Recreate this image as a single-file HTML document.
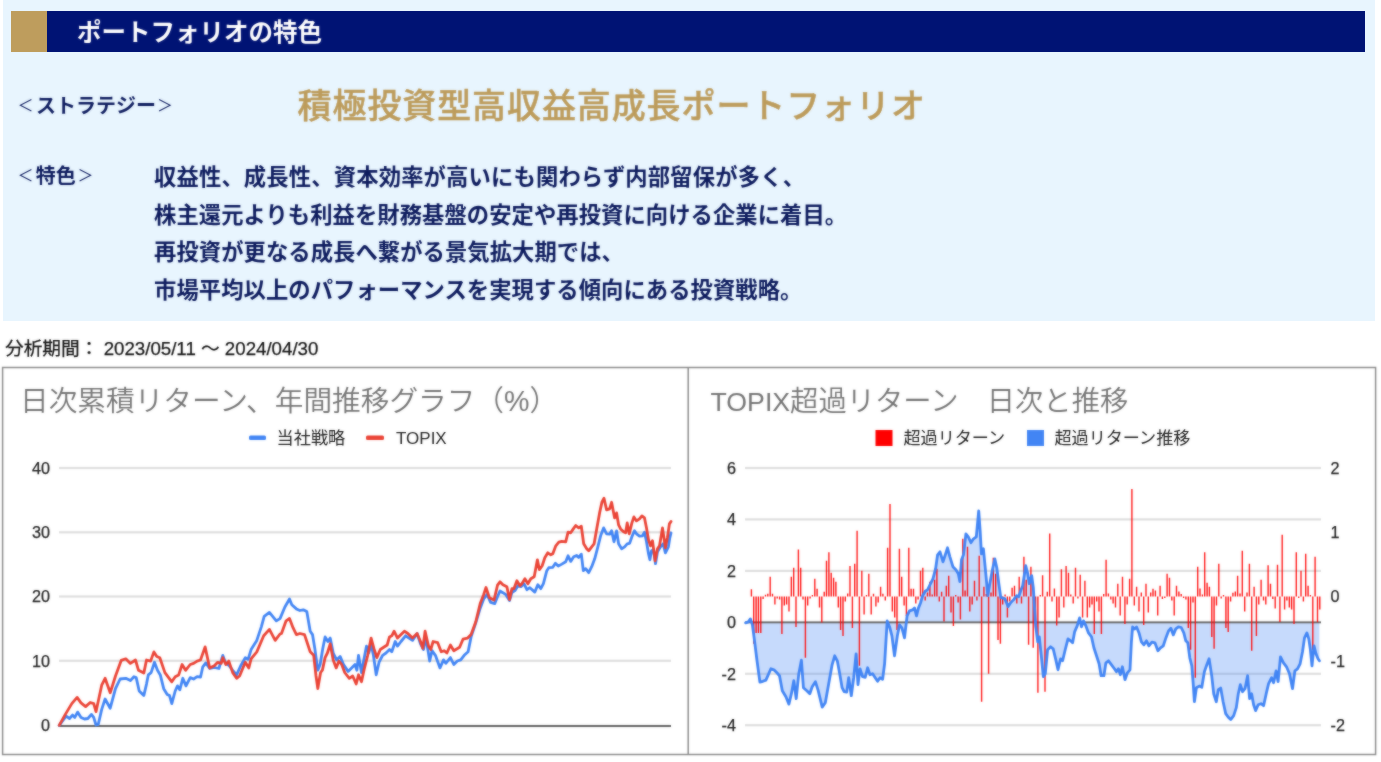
<!DOCTYPE html>
<html lang="ja">
<head>
<meta charset="utf-8">
<title>ポートフォリオの特色</title>
<style>
html,body{margin:0;padding:0;background:#fff;}
body{width:1381px;height:762px;position:relative;overflow:hidden;font-family:"Liberation Sans","Noto Sans CJK JP",sans-serif;}
.abs{position:absolute;white-space:nowrap;}
#box{left:3px;top:0;width:1372px;height:321px;background:#e8f5fe;}
#bar{left:11px;top:11px;width:1354px;height:41px;background:#001374;}
#gold{left:11px;top:11px;width:35.5px;height:41px;background:#be9d5d;}
#ttl{left:77px;top:12px;height:41px;line-height:41px;font-size:24.5px;font-weight:700;color:#fff;letter-spacing:0;}
.navy{color:#0d1b5e;font-weight:700;}
#st{left:0;top:90.5px;line-height:30px;font-size:20px;}
#head{left:297.6px;top:82.3px;line-height:48px;font-size:34px;font-weight:500;-webkit-text-stroke:0.45px #bc9b5b;color:#bc9b5b;letter-spacing:0.9px;}
#tk{left:0;top:160.5px;line-height:30px;font-size:20px;}
.ln{left:154px;font-size:22.3px;line-height:30px;letter-spacing:0.08px;}
.br{font-weight:400;width:20px;text-align:center;font-size:16px;top:0;}
#period{left:5px;top:337px;line-height:24px;font-size:18.7px;color:#111;-webkit-text-stroke:0.25px #111;}
#charts{left:0;top:0;filter:url(#soft);}
#ttl,#st,#head,#tk,.ln,#period{filter:url(#soft);}
</style>
</head>
<body>
<div id="box" class="abs"></div>
<div id="bar" class="abs"></div>
<div id="gold" class="abs"></div>
<div id="ttl" class="abs">ポートフォリオの特色</div>
<div id="st" class="abs navy"><span class="abs br" style="left:15.4px">＜</span><span class="abs" style="left:36.1px">ストラテジー</span><span class="abs br" style="left:155.1px">＞</span></div>
<div id="head" class="abs">積極投資型高収益高成長ポートフォリオ</div>
<div id="tk" class="abs navy"><span class="abs br" style="left:15.4px">＜</span><span class="abs" style="left:35.8px">特色</span><span class="abs br" style="left:75.6px">＞</span></div>
<div class="abs navy ln" style="top:163px;letter-spacing:0.17px">収益性、成長性、資本効率が高いにも関わらず内部留保が多く、</div>
<div class="abs navy ln" style="top:200.5px">株主還元よりも利益を財務基盤の安定や再投資に向ける企業に着目。</div>
<div class="abs navy ln" style="top:238px">再投資が更なる成長へ繋がる景気拡大期では、</div>
<div class="abs navy ln" style="top:275.7px">市場平均以上のパフォーマンスを実現する傾向にある投資戦略。</div>
<div id="period" class="abs">分析期間： 2023/05/11 ～ 2024/04/30</div>
<svg id="charts" class="abs" width="1381" height="762" viewBox="0 0 1381 762">
<filter id="soft" x="-5%" y="-20%" width="110%" height="140%" color-interpolation-filters="sRGB"><feGaussianBlur stdDeviation="0.8" result="b"/><feComposite in="SourceGraphic" in2="b" operator="arithmetic" k1="0" k2="0.5" k3="0.5" k4="0"/></filter>
<!--CHARTS-->
<rect x="2.6" y="367.5" width="1373" height="387" fill="#fff" stroke="#8c8c8c" stroke-width="1.5"/>
<rect x="687.45" y="367.5" width="1.5" height="387" fill="#8c8c8c"/>
<g font-family="'Liberation Sans','Noto Sans CJK JP',sans-serif">
<text x="20" y="411" font-size="28.66" font-weight="350" fill="#757575">日次累積リターン、年間推移グラフ（%）</text>
<rect x="249" y="435.5" width="17" height="4.5" rx="1.5" fill="#4285f4"/>
<text x="276.5" y="444.3" font-size="17.2" fill="#222">当社戦略</text>
<rect x="366" y="435.5" width="18" height="4.5" rx="1.5" fill="#ea4335"/>
<text x="396" y="444" font-size="17" fill="#222">TOPIX</text>
<rect x="59" y="466.9" width="612" height="2.2" fill="#dedede"/>
<rect x="59" y="531.2" width="612" height="2.2" fill="#dedede"/>
<rect x="59" y="595.4" width="612" height="2.2" fill="#dedede"/>
<rect x="59" y="659.7" width="612" height="2.2" fill="#dedede"/>
<text x="50" y="473.9" font-size="16.2" text-anchor="end" fill="#222" stroke="#222" stroke-width="0.25">40</text>
<text x="50" y="538.2" font-size="16.2" text-anchor="end" fill="#222" stroke="#222" stroke-width="0.25">30</text>
<text x="50" y="602.4" font-size="16.2" text-anchor="end" fill="#222" stroke="#222" stroke-width="0.25">20</text>
<text x="50" y="666.7" font-size="16.2" text-anchor="end" fill="#222" stroke="#222" stroke-width="0.25">10</text>
<text x="50" y="730.9" font-size="16.2" text-anchor="end" fill="#222" stroke="#222" stroke-width="0.25">0</text>
<rect x="58.5" y="725.2" width="612.5" height="1.6" fill="#3c3c3c"/>
<path d="M59.2,725.4 L66.1,716.2 L69.5,718.5 L72.5,715.1 L74.8,717.4 L77.6,712.1 L81.0,717.4 L84.5,719.0 L87.9,718.5 L91.4,714.4 L93.7,717.4 L96.0,725.0 L98.3,724.3 L101.7,709.4 L105.1,699.0 L110.2,708.2 L115.5,688.7 L120.1,679.0 L125.8,678.3 L130.4,680.6 L133.9,676.7 L136.2,677.6 L139.2,691.0 L143.8,695.6 L146.5,684.1 L148.3,674.9 L151.1,672.6 L154.5,662.3 L157.5,670.3 L160.3,674.9 L163.7,688.7 L167.2,694.4 L169.5,695.6 L171.8,703.6 L175.2,691.0 L177.5,685.9 L179.8,689.8 L182.8,678.3 L186.0,685.9 L190.2,677.6 L193.6,679.0 L197.1,676.7 L200.5,677.2 L202.8,666.8 L205.8,662.9 L209.7,668.5 L214.3,667.5 L218.9,668.5 L222.8,655.4 L225.8,663.4 L229.2,665.7 L232.7,670.3 L236.6,674.9 L240.7,665.7 L245.3,657.7 L248.1,659.3 L251.1,649.6 L256.8,640.4 L261.4,626.6 L264.2,616.3 L269.4,612.4 L276.3,620.9 L280.0,618.6 L284.9,607.0 L289.5,599.0 L291.8,604.7 L296.4,608.9 L299.9,610.5 L303.3,609.8 L306.8,611.6 L310.2,631.2 L312.5,634.6 L314.8,648.4 L317.8,670.2 L320.1,664.5 L322.8,648.4 L325.1,636.9 L327.9,641.5 L330.2,638.1 L333.2,653.0 L336.6,659.9 L340.1,656.4 L343.5,664.5 L348.1,671.4 L351.6,667.9 L355.0,664.5 L356.9,670.2 L358.5,655.3 L361.5,672.5 L363.8,659.9 L366.5,646.1 L368.8,653.0 L371.1,643.8 L373.4,655.3 L376.2,674.8 L379.1,662.2 L382.6,655.3 L386.0,653.0 L389.5,649.5 L391.8,651.8 L395.2,641.5 L397.5,646.1 L401.0,641.5 L405.6,635.8 L409.0,638.1 L412.5,640.4 L417.1,633.5 L420.5,643.8 L423.5,649.5 L425.8,636.9 L429.7,661.0 L432.0,650.7 L435.4,655.3 L440.0,667.9 L443.5,659.9 L445.8,663.3 L450.4,657.6 L453.8,664.5 L457.3,661.0 L460.7,659.9 L464.2,655.3 L468.1,651.8 L471.1,636.9 L475.7,623.1 L480.2,608.2 L483.7,599.0 L487.1,594.4 L490.6,602.4 L494.7,603.6 L497.5,596.7 L500.0,591.0 L502.9,592.7 L505.9,594.7 L509.5,600.6 L511.9,592.7 L514.9,590.7 L517.9,585.7 L520.9,586.7 L523.9,583.7 L526.9,589.7 L529.9,587.7 L534.8,592.1 L537.8,584.7 L540.8,588.7 L543.4,583.7 L546.8,570.7 L548.8,567.7 L552.8,567.3 L555.4,563.3 L558.2,566.1 L561.8,564.1 L565.7,561.8 L568.1,555.8 L570.7,561.4 L573.7,556.8 L576.7,555.4 L578.7,557.4 L581.3,554.2 L583.3,570.7 L585.7,568.7 L588.7,572.7 L591.7,566.7 L594.7,558.8 L597.6,547.8 L600.6,535.8 L603.6,527.9 L606.6,533.8 L609.6,534.2 L611.6,530.8 L614.0,541.8 L616.6,530.8 L618.6,543.8 L621.6,548.8 L624.6,546.8 L627.2,543.8 L629.6,543.4 L631.9,536.8 L634.5,530.8 L636.5,533.8 L639.5,536.2 L642.5,535.8 L644.5,532.2 L646.5,541.8 L648.5,553.8 L649.9,559.8 L651.5,550.8 L653.5,549.8 L655.5,563.7 L657.5,551.8 L660.5,546.8 L663.1,543.8 L665.4,552.8 L668.4,546.8 L669.8,537.8 L671.0,532.8" fill="none" stroke="#4285f4" stroke-width="2.8" stroke-linejoin="round" stroke-linecap="round"/>
<path d="M59.2,725.4 L64.9,715.1 L71.8,703.6 L77.1,697.4 L81.0,702.9 L85.6,706.6 L90.2,702.5 L93.7,703.6 L96.0,711.7 L101.7,685.2 L105.1,678.3 L110.2,692.8 L115.5,676.0 L121.2,660.4 L125.8,658.8 L130.4,663.4 L135.5,660.0 L138.5,670.3 L143.8,673.1 L146.5,660.0 L150.6,661.1 L153.9,651.9 L156.8,656.5 L159.8,657.7 L164.9,672.6 L171.8,681.8 L175.2,676.7 L178.7,674.9 L182.1,664.5 L185.6,670.3 L190.2,664.5 L193.6,663.4 L197.1,661.1 L200.5,660.0 L205.1,646.9 L209.7,668.0 L214.3,665.7 L217.7,662.3 L221.2,663.4 L222.8,657.7 L225.8,664.5 L228.8,661.1 L232.7,672.6 L236.6,678.3 L239.6,676.0 L245.3,662.3 L248.8,668.0 L251.1,658.8 L256.8,651.9 L263.7,635.8 L269.4,629.4 L275.2,640.4 L280.0,634.0 L281.5,633.5 L286.1,620.8 L289.5,618.5 L293.0,627.7 L296.4,634.6 L299.9,633.5 L304.5,634.6 L306.8,641.5 L310.2,651.8 L313.7,655.3 L316.0,676.0 L317.8,688.6 L320.6,672.5 L322.4,670.2 L325.1,657.6 L327.4,653.0 L330.2,643.8 L333.2,659.9 L336.2,667.9 L338.9,661.0 L341.7,664.5 L344.7,672.5 L349.3,678.3 L352.7,676.0 L356.2,684.0 L358.5,674.8 L361.5,681.7 L364.2,669.1 L367.7,655.3 L371.1,638.1 L373.9,648.4 L376.8,657.6 L380.3,649.5 L383.7,647.3 L387.2,645.0 L389.5,636.9 L391.8,635.8 L394.1,631.2 L397.5,638.1 L401.0,634.6 L404.4,631.2 L407.9,633.5 L412.5,638.1 L417.1,633.5 L420.5,641.5 L422.8,648.4 L425.1,631.2 L428.5,646.1 L430.8,649.5 L433.1,641.5 L437.7,642.7 L441.2,651.8 L444.2,650.7 L446.9,653.0 L450.4,645.0 L453.8,650.7 L459.6,647.3 L463.0,639.2 L467.6,638.1 L471.1,634.6 L475.7,622.0 L480.2,603.6 L483.7,594.4 L486.0,587.5 L489.4,597.8 L494.0,600.1 L497.5,585.2 L500.0,581.8 L502.9,584.7 L506.9,586.7 L509.5,599.6 L511.9,588.7 L513.9,588.7 L516.9,580.7 L519.9,585.7 L521.9,583.7 L524.9,578.7 L527.9,583.7 L530.8,578.7 L534.2,576.7 L537.4,559.8 L539.4,569.7 L542.2,565.7 L544.8,557.8 L547.8,552.8 L550.8,554.8 L552.8,553.8 L555.8,545.8 L558.8,542.2 L561.8,541.4 L565.7,541.8 L568.1,532.2 L570.7,532.8 L573.3,528.9 L575.7,525.5 L578.7,527.9 L581.3,526.3 L583.7,543.8 L586.7,548.8 L588.7,550.8 L591.7,546.8 L594.1,543.8 L596.7,528.9 L599.6,512.9 L602.0,501.9 L604.0,498.3 L606.6,509.9 L609.6,508.9 L611.6,502.3 L614.6,517.9 L616.6,512.9 L618.6,524.9 L620.6,528.9 L623.6,531.8 L625.6,532.8 L627.2,522.9 L629.2,533.8 L631.9,522.9 L633.9,516.9 L636.5,520.9 L639.5,518.9 L641.9,515.9 L644.5,517.9 L646.5,527.9 L648.5,539.8 L650.5,545.8 L652.5,540.8 L655.1,560.8 L657.5,548.8 L659.5,545.8 L662.5,527.9 L665.4,547.8 L667.4,537.8 L669.4,523.9 L671.0,521.5" fill="none" stroke="#ea4335" stroke-width="2.8" stroke-linejoin="round" stroke-linecap="round"/>
<text x="710.5" y="410.5" font-size="28.3" font-weight="350" fill="#757575"><tspan font-size="26.7">TOPIX</tspan>超過リターン　日次と推移</text>
<rect x="875.5" y="430" width="17" height="16" fill="#ff0000"/>
<text x="903.5" y="444.3" font-size="17.1" fill="#222">超過リターン</text>
<rect x="1027" y="430" width="17" height="16" fill="#4285f4"/>
<text x="1054.5" y="444.3" font-size="17.1" fill="#222">超過リターン推移</text>
<rect x="745" y="466.9" width="576" height="2.2" fill="#dedede"/>
<rect x="745" y="518.3" width="576" height="2.2" fill="#dedede"/>
<rect x="745" y="569.8" width="576" height="2.2" fill="#dedede"/>
<rect x="745" y="672.7" width="576" height="2.2" fill="#dedede"/>
<rect x="745" y="724.1" width="576" height="2.2" fill="#dedede"/>
<text x="736" y="473.9" font-size="16.2" text-anchor="end" fill="#222" stroke="#222" stroke-width="0.25">6</text>
<text x="736" y="525.3" font-size="16.2" text-anchor="end" fill="#222" stroke="#222" stroke-width="0.25">4</text>
<text x="736" y="576.8" font-size="16.2" text-anchor="end" fill="#222" stroke="#222" stroke-width="0.25">2</text>
<text x="736" y="628.2" font-size="16.2" text-anchor="end" fill="#222" stroke="#222" stroke-width="0.25">0</text>
<text x="736" y="679.7" font-size="16.2" text-anchor="end" fill="#222" stroke="#222" stroke-width="0.25">-2</text>
<text x="736" y="731.1" font-size="16.2" text-anchor="end" fill="#222" stroke="#222" stroke-width="0.25">-4</text>
<text x="1330.5" y="473.9" font-size="16.2" fill="#222" stroke="#222" stroke-width="0.25">2</text>
<text x="1330.5" y="538.2" font-size="16.2" fill="#222" stroke="#222" stroke-width="0.25">1</text>
<text x="1330.5" y="602.4" font-size="16.2" fill="#222" stroke="#222" stroke-width="0.25">0</text>
<text x="1330.5" y="666.7" font-size="16.2" fill="#222" stroke="#222" stroke-width="0.25">-1</text>
<text x="1330.5" y="731.1" font-size="16.2" fill="#222" stroke="#222" stroke-width="0.25">-2</text>
<path d="M745.6,622.9 L748.4,621.9 L750.4,618.9 L752.4,624.9 L754.4,639.9 L756.9,659.8 L759.9,682.1 L762.9,681.3 L765.9,680.1 L767.9,675.7 L770.9,668.8 L773.9,669.8 L776.9,672.8 L779.5,675.7 L782.3,690.7 L785.9,696.7 L788.9,704.1 L791.4,693.7 L793.8,680.7 L796.2,698.7 L798.8,673.7 L801.4,660.2 L803.4,687.7 L806.8,690.7 L809.8,693.7 L812.2,686.7 L815.4,681.7 L818.2,690.7 L822.2,707.2 L825.3,702.7 L828.7,683.7 L832.1,664.8 L834.7,655.8 L837.3,660.8 L839.7,673.7 L842.1,687.7 L844.1,691.7 L846.7,692.1 L848.7,677.7 L851.3,695.7 L853.7,677.7 L856.1,653.8 L858.0,684.7 L860.0,668.8 L862.6,676.7 L865.2,677.3 L867.6,667.8 L870.0,674.7 L872.6,673.7 L875.2,677.7 L877.6,681.3 L880.0,677.7 L882.6,679.3 L884.6,663.8 L887.2,620.9 L889.6,626.9 L891.9,635.9 L894.5,655.8 L897.5,634.9 L899.5,624.9 L901.9,627.9 L904.5,637.9 L907.1,615.9 L909.5,610.9 L912.5,609.9 L914.5,607.9 L916.5,615.9 L918.5,607.9 L920.5,603.0 L922.5,596.0 L925.4,591.0 L927.4,590.0 L933.0,578.7 L935.6,568.7 L937.6,554.8 L940.0,551.8 L943.0,561.8 L945.0,555.8 L947.5,547.8 L949.9,556.8 L952.9,566.7 L955.9,569.7 L958.3,573.7 L959.9,581.7 L961.5,559.8 L963.5,554.8 L965.9,533.8 L968.3,536.8 L970.9,542.8 L973.5,538.8 L976.3,536.8 L978.7,510.9 L980.2,531.8 L981.4,553.8 L983.4,548.8 L985.8,573.7 L987.8,595.7 L989.8,583.7 L992.2,570.7 L994.8,558.8 L996.8,567.7 L998.8,583.7 L1000.8,597.6 L1004.8,598.6 L1008.2,606.6 L1010.8,602.6 L1013.7,599.6 L1016.7,595.7 L1018.7,596.7 L1020.7,590.7 L1022.7,585.7 L1025.7,565.7 L1027.7,573.7 L1029.3,583.7 L1031.7,575.7 L1033.3,587.7 L1035.7,625.9 L1037.7,641.8 L1039.3,636.9 L1041.3,655.8 L1043.3,676.7 L1045.3,673.7 L1047.6,649.8 L1050.6,646.8 L1053.2,648.8 L1055.6,658.8 L1058.0,669.8 L1060.6,658.8 L1062.6,660.8 L1065.2,649.8 L1068.0,638.9 L1070.6,640.8 L1072.6,642.8 L1074.6,631.9 L1077.2,625.9 L1079.6,617.9 L1081.5,626.9 L1083.5,620.9 L1085.9,625.9 L1088.5,632.9 L1091.5,636.9 L1093.9,647.8 L1096.5,655.8 L1099.1,663.8 L1101.1,675.7 L1103.9,675.7 L1105.9,662.8 L1108.5,660.8 L1111.5,664.8 L1114.4,668.8 L1116.4,671.8 L1118.4,668.8 L1120.4,674.7 L1122.4,666.8 L1125.0,679.7 L1127.4,672.8 L1130.0,669.8 L1131.4,641.8 L1132.6,626.9 L1134.6,628.9 L1136.6,626.9 L1139.0,632.9 L1141.4,641.8 L1143.9,644.8 L1146.5,640.8 L1148.9,645.8 L1151.9,642.2 L1154.9,642.8 L1157.9,650.8 L1160.5,647.8 L1163.3,645.8 L1165.9,637.9 L1168.5,630.9 L1170.9,628.3 L1173.3,634.9 L1175.8,628.9 L1178.4,626.9 L1181.2,627.5 L1183.8,632.9 L1185.8,640.8 L1187.8,642.8 L1189.8,657.8 L1191.8,665.8 L1193.2,683.7 L1194.4,701.7 L1196.4,687.7 L1199.2,686.1 L1201.8,687.3 L1204.4,671.8 L1206.8,664.8 L1209.1,658.8 L1211.7,675.7 L1213.7,693.7 L1216.3,701.7 L1218.3,689.7 L1220.7,688.1 L1223.1,701.7 L1225.7,713.6 L1228.3,717.2 L1230.7,719.6 L1233.7,715.6 L1236.3,707.6 L1238.3,693.7 L1240.3,684.7 L1242.6,691.7 L1245.0,688.7 L1247.6,675.7 L1249.6,698.7 L1251.6,693.7 L1253.6,704.7 L1255.6,710.6 L1258.2,704.7 L1261.0,703.7 L1263.6,705.7 L1266.2,693.7 L1268.6,683.7 L1271.6,677.7 L1273.6,682.7 L1276.1,670.8 L1278.1,681.7 L1280.5,656.8 L1283.5,662.8 L1286.5,666.8 L1289.5,673.7 L1292.5,688.7 L1294.9,670.8 L1297.5,668.8 L1300.1,663.8 L1302.5,651.8 L1304.5,637.9 L1306.9,632.9 L1308.8,638.9 L1310.4,649.8 L1312.0,665.8 L1314.0,645.8 L1316.0,653.8 L1318.0,658.8 L1319.4,660.8 L1319.4,622.3 L745.6,622.3 Z" fill="#4285f4" fill-opacity="0.3" stroke="none"/>
<rect x="745" y="621.4" width="576" height="1.9" fill="#666"/>
<path d="M751.4,596.4V589.3M753.7,596.4V643.8M756.1,596.4V632.9M758.4,596.4V632.9M760.8,596.4V632.9M763.1,596.4V598.9M765.5,596.4V594.7M767.8,596.4V593.7M770.2,596.4V576.7M772.5,596.4V593.7M774.9,596.4V604.6M777.2,596.4V598.4M779.6,596.4V599.6M781.9,596.4V633.9M784.3,596.4V605.6M786.6,596.4V604.6M789.0,596.4V611.6M791.3,596.4V576.7M793.7,596.4V567.7M796.0,596.4V626.9M798.4,596.4V549.4M800.7,596.4V567.7M803.0,596.4V599.4M805.4,596.4V657.8M807.7,596.4V605.6M810.1,596.4V598.4M812.4,596.4V594.9M814.8,596.4V578.7M817.1,596.4V588.7M819.5,596.4V607.6M821.8,596.4V622.6M824.2,596.4V591.7M826.5,596.4V560.8M828.9,596.4V552.2M831.2,596.4V572.7M833.6,596.4V577.7M835.9,596.4V581.7M838.3,596.4V607.6M840.6,596.4V629.9M843.0,596.4V635.9M845.3,596.4V601.6M847.7,596.4V593.4M850.0,596.4V566.1M852.4,596.4V627.9M854.7,596.4V563.7M857.1,596.4V530.8M859.4,596.4V665.8M861.8,596.4V570.7M864.1,596.4V614.6M866.5,596.4V594.9M868.8,596.4V573.7M871.2,596.4V614.6M873.5,596.4V593.7M875.9,596.4V606.6M878.2,596.4V602.6M880.6,596.4V586.7M882.9,596.4V593.7M885.3,596.4V600.6M887.6,596.4V547.8M890.0,596.4V503.9M892.3,596.4V611.6M894.7,596.4V617.6M897.0,596.4V629.9M899.4,596.4V548.8M901.7,596.4V576.7M904.1,596.4V605.6M906.4,596.4V615.9M908.8,596.4V547.8M911.1,596.4V588.7M913.5,596.4V588.7M915.8,596.4V603.6M918.1,596.4V599.4M920.5,596.4V570.7M922.8,596.4V567.7M925.2,596.4V600.4M927.5,596.4V592.4M929.9,596.4V581.7M932.2,596.4V594.4M934.6,596.4V579.7M936.9,596.4V568.7M939.3,596.4V601.4M941.6,596.4V591.7M944.0,596.4V621.6M946.3,596.4V585.7M948.7,596.4V575.7M951.0,596.4V612.6M953.4,596.4V625.9M955.7,596.4V594.9M958.1,596.4V602.6M960.4,596.4V619.6M962.8,596.4V538.8M965.1,596.4V590.4M967.5,596.4V546.8M969.8,596.4V611.6M972.2,596.4V604.4M974.5,596.4V580.7M976.9,596.4V600.6M979.2,596.4V555.8M981.6,596.4V701.7M983.9,596.4V586.7M986.3,596.4V593.9M988.6,596.4V673.7M991.0,596.4V592.4M993.3,596.4V557.8M995.7,596.4V573.7M998.0,596.4V639.9M1000.4,596.4V643.8M1002.7,596.4V604.4M1005.1,596.4V594.4M1007.4,596.4V617.6M1009.8,596.4V601.4M1012.1,596.4V587.7M1014.5,596.4V585.7M1016.8,596.4V603.6M1019.2,596.4V576.7M1021.5,596.4V603.6M1023.9,596.4V556.8M1026.2,596.4V579.7M1028.6,596.4V644.8M1030.9,596.4V566.7M1033.2,596.4V647.8M1035.6,596.4V627.6M1037.9,596.4V692.7M1040.3,596.4V594.9M1042.6,596.4V575.3M1045.0,596.4V691.7M1047.3,596.4V591.7M1049.7,596.4V533.4M1052.0,596.4V601.4M1054.4,596.4V588.4M1056.7,596.4V625.5M1059.1,596.4V617.6M1061.4,596.4V569.3M1063.8,596.4V607.6M1066.1,596.4V566.1M1068.5,596.4V572.7M1070.8,596.4V594.4M1073.2,596.4V603.6M1075.5,596.4V567.7M1077.9,596.4V598.4M1080.2,596.4V574.7M1082.6,596.4V617.6M1084.9,596.4V580.7M1087.3,596.4V617.6M1089.6,596.4V607.6M1092.0,596.4V604.4M1094.3,596.4V633.9M1096.7,596.4V601.4M1099.0,596.4V611.6M1101.4,596.4V633.9M1103.7,596.4V593.9M1106.1,596.4V559.8M1108.4,596.4V593.4M1110.8,596.4V599.4M1113.1,596.4V603.6M1115.5,596.4V607.6M1117.8,596.4V583.7M1120.2,596.4V615.6M1122.5,596.4V576.7M1124.9,596.4V623.9M1127.2,596.4V604.4M1129.6,596.4V578.7M1131.9,596.4V489.0M1134.3,596.4V605.6M1136.6,596.4V586.7M1139.0,596.4V611.6M1141.3,596.4V592.4M1143.7,596.4V624.9M1146.0,596.4V583.7M1148.3,596.4V612.6M1150.7,596.4V592.4M1153.0,596.4V588.7M1155.4,596.4V590.4M1157.7,596.4V615.6M1160.1,596.4V585.7M1162.4,596.4V598.9M1164.8,596.4V597.9M1167.1,596.4V573.7M1169.5,596.4V577.7M1171.8,596.4V600.4M1174.2,596.4V615.6M1176.5,596.4V585.7M1178.9,596.4V591.4M1181.2,596.4V593.9M1183.6,596.4V597.9M1185.9,596.4V599.6M1188.3,596.4V627.9M1190.6,596.4V649.8M1193.0,596.4V602.4M1195.3,596.4V677.7M1197.7,596.4V566.7M1200.0,596.4V588.4M1202.4,596.4V594.4M1204.7,596.4V552.2M1207.1,596.4V582.7M1209.4,596.4V586.7M1211.8,596.4V636.9M1214.1,596.4V648.8M1216.5,596.4V605.6M1218.8,596.4V563.7M1221.2,596.4V598.4M1223.5,596.4V594.9M1225.9,596.4V627.9M1228.2,596.4V631.9M1230.6,596.4V601.6M1232.9,596.4V592.7M1235.3,596.4V591.4M1237.6,596.4V575.7M1240.0,596.4V593.4M1242.3,596.4V550.8M1244.7,596.4V611.6M1247.0,596.4V592.4M1249.4,596.4V563.7M1251.7,596.4V650.8M1254.1,596.4V586.7M1256.4,596.4V635.9M1258.8,596.4V604.4M1261.1,596.4V579.7M1263.5,596.4V600.6M1265.8,596.4V604.4M1268.1,596.4V565.3M1270.5,596.4V583.7M1272.8,596.4V598.9M1275.2,596.4V608.6M1277.5,596.4V564.7M1279.9,596.4V621.9M1282.2,596.4V534.8M1284.6,596.4V609.6M1286.9,596.4V600.4M1289.3,596.4V607.6M1291.6,596.4V609.6M1294.0,596.4V623.9M1296.3,596.4V552.2M1298.7,596.4V597.9M1301.0,596.4V570.7M1303.4,596.4V601.4M1305.7,596.4V553.8M1308.1,596.4V585.7M1310.4,596.4V594.9M1312.8,596.4V649.8M1315.1,596.4V556.8M1317.5,596.4V622.3M1319.8,596.4V609.6" fill="none" stroke="#ff0000" stroke-width="1.4" stroke-opacity="0.9"/>
<path d="M745.6,622.9 L748.4,621.9 L750.4,618.9 L752.4,624.9 L754.4,639.9 L756.9,659.8 L759.9,682.1 L762.9,681.3 L765.9,680.1 L767.9,675.7 L770.9,668.8 L773.9,669.8 L776.9,672.8 L779.5,675.7 L782.3,690.7 L785.9,696.7 L788.9,704.1 L791.4,693.7 L793.8,680.7 L796.2,698.7 L798.8,673.7 L801.4,660.2 L803.4,687.7 L806.8,690.7 L809.8,693.7 L812.2,686.7 L815.4,681.7 L818.2,690.7 L822.2,707.2 L825.3,702.7 L828.7,683.7 L832.1,664.8 L834.7,655.8 L837.3,660.8 L839.7,673.7 L842.1,687.7 L844.1,691.7 L846.7,692.1 L848.7,677.7 L851.3,695.7 L853.7,677.7 L856.1,653.8 L858.0,684.7 L860.0,668.8 L862.6,676.7 L865.2,677.3 L867.6,667.8 L870.0,674.7 L872.6,673.7 L875.2,677.7 L877.6,681.3 L880.0,677.7 L882.6,679.3 L884.6,663.8 L887.2,620.9 L889.6,626.9 L891.9,635.9 L894.5,655.8 L897.5,634.9 L899.5,624.9 L901.9,627.9 L904.5,637.9 L907.1,615.9 L909.5,610.9 L912.5,609.9 L914.5,607.9 L916.5,615.9 L918.5,607.9 L920.5,603.0 L922.5,596.0 L925.4,591.0 L927.4,590.0 L933.0,578.7 L935.6,568.7 L937.6,554.8 L940.0,551.8 L943.0,561.8 L945.0,555.8 L947.5,547.8 L949.9,556.8 L952.9,566.7 L955.9,569.7 L958.3,573.7 L959.9,581.7 L961.5,559.8 L963.5,554.8 L965.9,533.8 L968.3,536.8 L970.9,542.8 L973.5,538.8 L976.3,536.8 L978.7,510.9 L980.2,531.8 L981.4,553.8 L983.4,548.8 L985.8,573.7 L987.8,595.7 L989.8,583.7 L992.2,570.7 L994.8,558.8 L996.8,567.7 L998.8,583.7 L1000.8,597.6 L1004.8,598.6 L1008.2,606.6 L1010.8,602.6 L1013.7,599.6 L1016.7,595.7 L1018.7,596.7 L1020.7,590.7 L1022.7,585.7 L1025.7,565.7 L1027.7,573.7 L1029.3,583.7 L1031.7,575.7 L1033.3,587.7 L1035.7,625.9 L1037.7,641.8 L1039.3,636.9 L1041.3,655.8 L1043.3,676.7 L1045.3,673.7 L1047.6,649.8 L1050.6,646.8 L1053.2,648.8 L1055.6,658.8 L1058.0,669.8 L1060.6,658.8 L1062.6,660.8 L1065.2,649.8 L1068.0,638.9 L1070.6,640.8 L1072.6,642.8 L1074.6,631.9 L1077.2,625.9 L1079.6,617.9 L1081.5,626.9 L1083.5,620.9 L1085.9,625.9 L1088.5,632.9 L1091.5,636.9 L1093.9,647.8 L1096.5,655.8 L1099.1,663.8 L1101.1,675.7 L1103.9,675.7 L1105.9,662.8 L1108.5,660.8 L1111.5,664.8 L1114.4,668.8 L1116.4,671.8 L1118.4,668.8 L1120.4,674.7 L1122.4,666.8 L1125.0,679.7 L1127.4,672.8 L1130.0,669.8 L1131.4,641.8 L1132.6,626.9 L1134.6,628.9 L1136.6,626.9 L1139.0,632.9 L1141.4,641.8 L1143.9,644.8 L1146.5,640.8 L1148.9,645.8 L1151.9,642.2 L1154.9,642.8 L1157.9,650.8 L1160.5,647.8 L1163.3,645.8 L1165.9,637.9 L1168.5,630.9 L1170.9,628.3 L1173.3,634.9 L1175.8,628.9 L1178.4,626.9 L1181.2,627.5 L1183.8,632.9 L1185.8,640.8 L1187.8,642.8 L1189.8,657.8 L1191.8,665.8 L1193.2,683.7 L1194.4,701.7 L1196.4,687.7 L1199.2,686.1 L1201.8,687.3 L1204.4,671.8 L1206.8,664.8 L1209.1,658.8 L1211.7,675.7 L1213.7,693.7 L1216.3,701.7 L1218.3,689.7 L1220.7,688.1 L1223.1,701.7 L1225.7,713.6 L1228.3,717.2 L1230.7,719.6 L1233.7,715.6 L1236.3,707.6 L1238.3,693.7 L1240.3,684.7 L1242.6,691.7 L1245.0,688.7 L1247.6,675.7 L1249.6,698.7 L1251.6,693.7 L1253.6,704.7 L1255.6,710.6 L1258.2,704.7 L1261.0,703.7 L1263.6,705.7 L1266.2,693.7 L1268.6,683.7 L1271.6,677.7 L1273.6,682.7 L1276.1,670.8 L1278.1,681.7 L1280.5,656.8 L1283.5,662.8 L1286.5,666.8 L1289.5,673.7 L1292.5,688.7 L1294.9,670.8 L1297.5,668.8 L1300.1,663.8 L1302.5,651.8 L1304.5,637.9 L1306.9,632.9 L1308.8,638.9 L1310.4,649.8 L1312.0,665.8 L1314.0,645.8 L1316.0,653.8 L1318.0,658.8 L1319.4,660.8" fill="none" stroke="#4285f4" stroke-width="2.8" stroke-linejoin="round" stroke-linecap="round"/>
</g>
<!--/CHARTS-->
</svg>
</body>
</html>
